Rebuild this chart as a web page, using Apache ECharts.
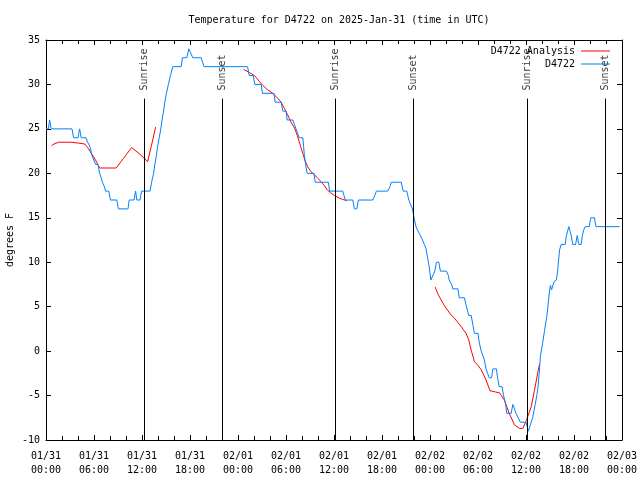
<!DOCTYPE html>
<html>
<head>
<meta charset="utf-8">
<script src="https://cdn.jsdelivr.net/npm/echarts@6/dist/echarts.min.js"></script>
<style>html,body{margin:0;padding:0;background:#fff;}#c{width:640px;height:480px;}</style>
</head>
<body>
<div id="c"></div>
<script>
// Hours since 2025-01-31 00:00 UTC
const xTickLabels = ['01/31\n00:00','01/31\n06:00','01/31\n12:00','01/31\n18:00','02/01\n00:00','02/01\n06:00','02/01\n12:00','02/01\n18:00','02/02\n00:00','02/02\n06:00','02/02\n12:00','02/02\n18:00','02/03\n00:00'];
const yTicks = [-10,-5,0,5,10,15,20,25,30,35];

const analysisSeg1 = [[0.69,23.1],[1.0,23.3],[1.6,23.5],[3.06,23.5],[4.1,23.4],[4.85,23.3],[5.2,22.9],[5.56,22.4],[6.19,21.5],[6.7,20.6],[8.77,20.6],[9.7,21.7],[10.7,22.9],[11.6,22.25],[12.4,21.6],[12.7,21.3],[13.15,23.0],[13.7,25.2]];
const analysisSeg2 = [[24.7,31.7],[25.3,31.4],[26.06,31.0],[26.6,30.4],[27.1,29.9],[27.7,29.4],[28.35,29.0],[28.9,28.5],[29.4,28.0],[29.8,27.3],[30.2,26.6],[30.6,25.8],[31.06,25.1],[31.4,24.3],[31.7,23.4],[32.1,22.25],[32.4,21.4],[32.7,20.75],[33.1,20.2],[33.6,19.8],[34.0,19.4],[34.4,19.06],[34.8,18.6],[35.2,18.1],[35.6,17.8],[36.06,17.5],[36.7,17.2],[37.3,17.0],[37.6,16.9]];
const analysisSeg3 = [[48.65,7.2],[49.0,6.4],[49.4,5.75],[49.8,5.1],[50.2,4.6],[50.6,4.1],[51.06,3.7],[51.5,3.2],[51.9,2.75],[52.5,2.0],[52.85,1.25],[53.15,0.1],[53.56,-1.2],[54.0,-1.6],[54.4,-2.1],[55.0,-3.25],[55.5,-4.45],[56.2,-4.6],[56.7,-4.7],[57.3,-5.5],[57.9,-7.0],[58.56,-8.3],[59.2,-8.7],[59.6,-8.7],[60.0,-7.9],[60.4,-6.9],[60.65,-6.25],[61.06,-4.4],[61.5,-2.3],[61.7,-1.45]];

const stationObs = [[0,25],[0.3,25],[0.45,26],[0.65,25],[3.25,25],[3.45,24],[4.0,24],[4.2,25],[4.4,24],[5.0,24],[5.2,23.5],[5.5,23],[5.75,22],[6.0,22],[6.2,21],[6.5,21],[6.7,20],[6.9,19.5],[7.05,19],[7.3,18.5],[7.45,18],[7.85,18],[8.05,17],[8.85,17],[9.05,16],[10.25,16],[10.4,17],[11.0,17],[11.2,18],[11.35,17],[11.75,17],[11.95,18],[13.0,18],[13.2,19],[13.45,20],[13.6,21],[13.8,22],[13.95,23],[14.15,24],[14.35,25],[14.5,26],[14.7,27],[14.85,28],[15.05,29],[15.3,30],[15.55,31],[15.85,32],[16.9,32],[17.05,33],[17.6,33],[17.85,34],[18.35,33],[19.4,33],[19.75,32],[25.2,32],[25.4,31],[25.9,31],[26.1,30],[26.9,30],[27.05,29],[28.5,29],[28.65,28],[29.4,28],[29.6,27],[30.0,27],[30.15,26],[30.85,26],[31.05,25.5],[31.25,25],[31.5,25],[31.65,24],[32.1,24],[32.2,23],[32.3,22],[32.45,21],[32.65,20],[33.5,20],[33.65,19],[35.3,19],[35.45,18],[37.1,18],[37.25,17.5],[37.4,17],[38.35,17],[38.55,16],[38.85,16],[39.05,17],[40.85,17],[41.1,17.5],[41.3,18],[42.7,18],[43.0,18.5],[43.15,19],[44.4,19],[44.65,18],[45.1,18],[45.35,17],[45.8,16],[46.05,14.8],[46.25,14],[46.5,13.5],[46.8,13],[47.3,12],[47.5,11.5],[47.7,10.5],[47.9,9.5],[48.1,8],[48.35,8],[48.6,9],[48.8,10],[49.1,10],[49.3,9],[50.05,9],[50.3,8.5],[50.4,8],[50.7,7.5],[50.85,7],[51.5,7],[51.65,6],[52.3,6],[52.5,5.2],[52.7,4.5],[52.85,4],[53.15,4],[53.35,3],[53.55,2],[54.0,2],[54.15,1],[54.4,0],[54.6,-0.5],[54.8,-1],[55.0,-2],[55.2,-2.5],[55.4,-3],[55.7,-3],[55.85,-2],[56.3,-2],[56.45,-3],[56.65,-4],[57.0,-4],[57.2,-5],[57.45,-6],[57.6,-7],[58.15,-7],[58.35,-6],[58.55,-6.5],[58.75,-7],[59.0,-7.2],[59.3,-8],[60.0,-8],[60.15,-8.5],[60.3,-9],[60.55,-8.3],[60.85,-7.4],[61.15,-6],[61.35,-5],[61.5,-4],[61.65,-2.5],[61.8,-0.6],[62.1,1],[62.3,2.2],[62.6,3.9],[62.8,5.5],[62.9,6.5],[63.05,7.4],[63.2,6.9],[63.5,7.8],[63.8,8],[63.95,9],[64.05,10],[64.2,11.4],[64.4,12],[64.9,12],[65.05,13],[65.2,13.5],[65.35,14],[65.5,13.5],[65.65,13],[65.85,12],[66.2,12],[66.4,13],[66.6,12],[66.9,12],[67.05,13],[67.2,13.6],[67.4,14],[67.9,14],[68.1,15],[68.55,15],[68.75,14],[71.7,14]];

const sunNames = ['Sunrise','Sunset','Sunrise','Sunset','Sunrise','Sunset'];
const sunTimes = [12.3,22.03,36.15,45.9,60.13,69.9];

// layout constants (data-space positions of annotation lines/labels)
const X_MIN = 0, X_MAX = 72, X_STEP = 6;
const Y_MIN = -10, Y_MAX = 35, Y_STEP = 5;
const SUN_LINE_TOP = 28.4;
const SUN_LABEL_BASE = 29.2;
const FONT = 'DejaVu Sans Mono';

const analysisData = [].concat(analysisSeg1, [[19, null]], analysisSeg2, [[43, null]], analysisSeg3);

const chart = echarts.init(document.getElementById('c'), null, {renderer: 'canvas'});
const axisCommonX = {
  type: 'value', min: X_MIN, max: X_MAX, interval: X_STEP,
  axisLine: {show: true, onZero: false, lineStyle: {color: '#000', width: 1}},
  axisTick: {show: true, inside: true, length: 5, lineStyle: {color: '#000'}},
  minorTick: {show: true, splitNumber: 3, length: 4, lineStyle: {color: '#000'}},
  splitLine: {show: false}
};
const axisCommonY = {
  type: 'value', min: Y_MIN, max: Y_MAX, interval: Y_STEP,
  axisLine: {show: true, onZero: false, lineStyle: {color: '#000', width: 1}},
  axisTick: {show: true, inside: true, length: 5, lineStyle: {color: '#000'}},
  splitLine: {show: false}
};
chart.setOption({
  animation: false,
  backgroundColor: '#fff',
  textStyle: {fontFamily: FONT},
  title: {
    text: 'Temperature for D4722 on 2025-Jan-31 (time in UTC)',
    left: 334, top: 10, textAlign: 'center',
    textStyle: {fontFamily: FONT, fontSize: 10, fontWeight: 'normal', color: '#000'}
  },
  grid: {left: 46, top: 40, width: 576, height: 400, containLabel: false, outerBoundsMode: 'none'},
  legend: {
    data: ['D4722 Analysis', 'D4722'],
    orient: 'vertical', right: 30, top: 45, align: 'right',
    icon: 'rect', itemWidth: 29, itemHeight: 1, itemGap: 1,
    textStyle: {fontFamily: FONT, fontSize: 10, color: '#000', padding: [0, 1, 0, 0], lineHeight: 12},
    padding: 0
  },
  xAxis: [
    Object.assign({}, axisCommonX, {
      position: 'bottom',
      axisLabel: {
        show: true, margin: 9, color: '#000', fontFamily: FONT, fontSize: 10, lineHeight: 14,
        formatter: v => xTickLabels[Math.round((v - X_MIN) / X_STEP)] || ''
      }
    }),
    Object.assign({}, axisCommonX, {position: 'top', axisLabel: {show: false}})
  ],
  yAxis: [
    Object.assign({}, axisCommonY, {
      position: 'left',
      name: 'degrees F', nameLocation: 'middle', nameGap: 31, nameRotate: 90,
      nameMoveOverlap: false,
      nameTextStyle: {fontFamily: FONT, fontSize: 10, color: '#000'},
      axisLabel: {show: true, margin: 6, color: '#000', fontFamily: FONT, fontSize: 10,
        formatter: v => String(yTicks[Math.round((v - Y_MIN) / Y_STEP)])}
    }),
    Object.assign({}, axisCommonY, {position: 'right', axisLabel: {show: false}})
  ],
  series: [
    {
      name: 'D4722 Analysis', type: 'line', data: analysisData,
      symbol: 'none', connectNulls: false,
      lineStyle: {color: '#ff0000', width: 1}, itemStyle: {color: '#ff0000'}
    },
    {
      name: 'D4722', type: 'line', data: stationObs,
      symbol: 'none',
      lineStyle: {color: '#0080ff', width: 1}, itemStyle: {color: '#0080ff'}
    },
    {
      name: 'sun', type: 'scatter', symbolSize: 0, silent: true,
      data: sunTimes.map((t, i) => ({value: [t, SUN_LABEL_BASE], name: sunNames[i]})),
      label: {
        show: true, formatter: '{b}', position: 'inside', rotate: 90,
        align: 'left', verticalAlign: 'middle', offset: [1, 0],
        fontFamily: FONT, fontSize: 10, color: '#000'
      },
      markLine: {
        silent: true, symbol: ['none', 'none'],
        label: {show: false},
        lineStyle: {color: '#000', width: 1, type: 'solid'},
        data: sunTimes.map(t => [{coord: [t, SUN_LINE_TOP]}, {coord: [t, Y_MIN]}])
      }
    }
  ]
});
</script>
</body>
</html>
